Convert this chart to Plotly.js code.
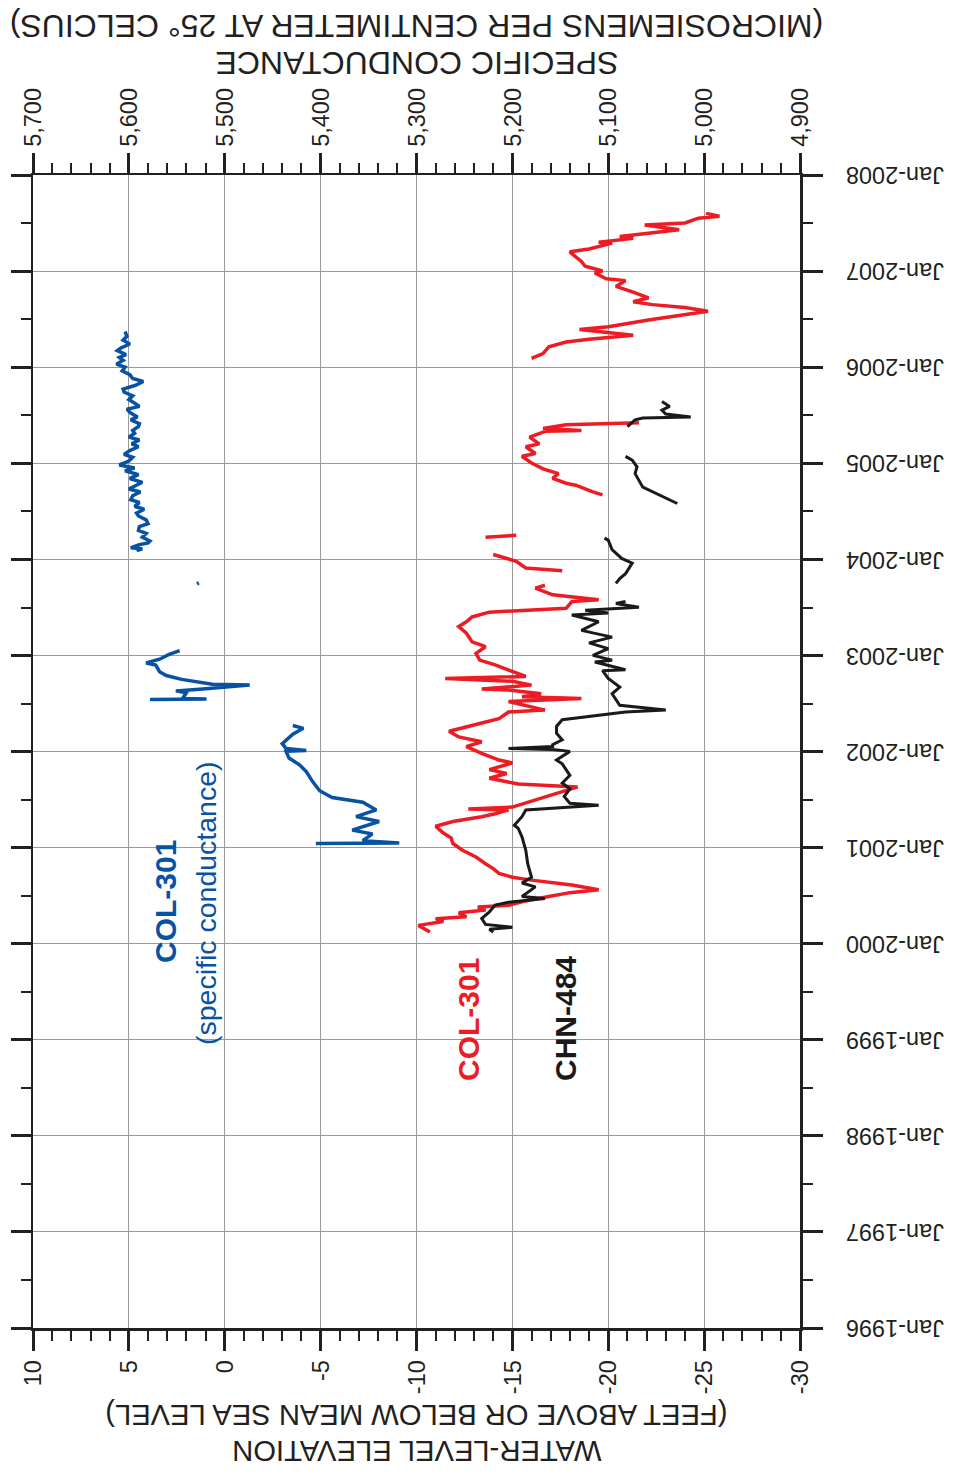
<!DOCTYPE html>
<html>
<head>
<meta charset="utf-8">
<script src="https://cdn.plot.ly/plotly-3.0.1.min.js"></script>
<style>
html,body{margin:0;padding:0;background:#fff;overflow:hidden;width:953px;height:1474px;}
#chart{position:absolute;left:0;top:0;width:1474px;height:953px;transform-origin:0 0;transform:translate(0px,1474px) rotate(-90deg);}
</style>
</head>
<body>
<div id="chart"></div>
<script>
// ---- Data (decimal years; null = gap in record) ----
const col301Time = [2000.12,2000.19,2000.23,2000.26,2000.28,2000.32,2000.35,2000.38,2000.40,2000.44,2000.49,2000.53,2000.56,2000.61,2000.66,2000.69,2000.73,2000.78,2000.83,2000.90,2000.97,2001.04,2001.10,2001.15,2001.22,2001.27,2001.32,2001.35,2001.39,2001.40,2001.42,2001.63,2001.66,2001.72,2001.77,2001.81,2001.88,2001.91,2001.98,2002.05,2002.10,2002.15,2002.21,2002.26,2002.29,2002.34,2002.41,2002.43,2002.50,2002.52,2002.55,2002.57,2002.60,2002.64,2002.65,2002.69,2002.73,2002.76,2002.78,2002.85,2002.90,2002.95,2003.02,2003.09,2003.14,2003.23,2003.30,2003.35,2003.40,2003.45,2003.49,2003.56,2003.58,2003.63,2003.70,2003.73,2003.80,2003.88,2003.91,2003.98,2004.05,2004.14,2004.23,2004.25,2004.45,
  2004.67,2004.70,2004.77,2004.79,2004.84,2004.89,2004.94,2005.00,2005.07,2005.10,2005.17,2005.20,2005.27,2005.33,2005.34,2005.36,2005.40,2005.41,2005.42,2005.75,
  2006.09,2006.14,2006.21,2006.26,2006.29,2006.33,2006.39,2006.42,2006.49,2006.54,2006.58,2006.62,2006.65,2006.68,2006.72,2006.78,2006.84,2006.90,2006.92,2006.98,2007.00,2007.05,2007.10,2007.18,2007.20,2007.23,2007.29,2007.30,2007.34,2007.36,2007.39,2007.43,2007.48,2007.50,2007.55,2007.57,2007.60];
const col301Level = [-10.7,-10.1,-11.4,-11.0,-12.6,-12.2,-13.6,-13.2,-14.8,-15.6,-16.9,-18.0,-19.5,-18.1,-16.0,-15.0,-14.3,-14.0,-13.6,-13.1,-12.4,-11.9,-11.8,-11.4,-11.0,-11.9,-13.4,-14.1,-14.8,-12.7,-15.0,-18.4,-15.3,-13.8,-14.7,-13.8,-15.0,-14.3,-13.4,-12.6,-13.4,-12.2,-11.7,-12.6,-13.3,-14.3,-14.8,-16.7,-15.3,-14.8,-18.6,-15.5,-16.5,-14.8,-13.4,-16.0,-15.0,-11.5,-15.7,-14.8,-14.1,-13.3,-13.1,-13.6,-12.9,-12.6,-12.2,-12.6,-12.9,-13.8,-17.8,-18.1,-19.5,-17.1,-16.2,-16.7,null,-17.6,-15.7,-15.2,-14.0,null,-13.6,-15.2,null,
  -19.7,-19.2,-18.3,-17.8,-17.1,-17.4,-16.6,-16.0,-15.5,-16.2,-15.7,-16.4,-15.9,-16.7,-18.6,-16.6,-17.8,-20.0,-21.6,null,
  -16.0,-16.6,-16.9,-17.8,-19.0,-21.3,-18.5,-20.0,-22.1,-24.0,-25.2,-24.0,-22.3,-21.3,-22.1,-21.3,-20.4,-20.9,-19.9,-19.3,-19.7,-18.8,-18.6,-18.1,-18.0,-19.0,-20.2,-19.5,-21.3,-20.6,-22.1,-23.7,-21.9,-24.0,-24.7,-25.8,-25.1];

const chn484Time = [2000.12,2000.15,2000.17,2000.20,2000.26,2000.33,2000.40,2000.43,2000.47,2000.49,2000.59,2000.63,2000.69,2000.83,2000.97,2001.11,2001.20,2001.23,2001.32,2001.39,2001.44,2001.46,2001.53,2001.61,2001.67,2001.75,2001.87,2001.91,2002.00,2002.02,2002.03,2002.05,2002.07,2002.12,2002.19,2002.26,2002.33,2002.38,2002.41,2002.43,2002.48,2002.60,2002.67,2002.76,2002.84,2002.85,2002.93,2002.95,2003.00,2003.07,2003.13,2003.19,2003.26,2003.35,2003.40,2003.42,2003.44,2003.47,2003.50,2003.51,2003.54,2003.56,2003.65,2003.75,2003.80,2003.85,2003.92,2003.96,2004.01,2004.10,2004.20,2004.22,2004.40,
  2004.58,2004.70,2004.75,2004.82,2004.89,2004.96,2005.03,2005.07,2005.20,
  2005.38,2005.45,2005.47,2005.48,2005.51,2005.55,2005.59,2005.64];
const chn484Level = [-14.0,-13.8,-15.0,-13.6,-13.4,-13.8,-14.1,-14.8,-16.7,-15.5,-16.2,-15.5,-16.0,-15.8,-15.7,-15.5,-15.3,-15.1,-15.5,-15.7,-19.5,-18.0,-17.7,-18.0,-17.6,-18.0,-17.6,-17.3,-18.0,-17.1,-14.8,-17.1,-17.1,-17.6,-17.3,-17.3,-17.6,-19.5,-20.9,-23.0,-20.6,-20.2,-20.6,-20.0,-19.7,-20.9,-19.3,-20.2,-19.2,-20.0,-19.0,-20.2,-18.6,-19.5,-18.5,-18.1,-20.0,-18.8,-21.6,-21.25,-20.4,-20.9,null,-20.4,-20.6,-20.9,-21.1,-21.25,-20.7,-20.2,-20.0,-19.8,null,
  -23.6,-22.3,-21.8,-21.6,-21.4,-21.5,-21.25,-20.9,null,
  -21.0,-21.4,-21.8,-24.3,-23.0,-22.8,-23.2,-22.8];

const condTime = [2001.04,2001.045,2001.07,2001.14,2001.18,2001.27,2001.32,2001.39,2001.47,2001.52,2001.59,2001.68,2001.79,2001.86,2001.93,2002.00,2002.01,2002.03,2002.08,2002.18,2002.24,2002.26,2002.27,2002.40,
  2002.54,2002.545,2002.55,2002.61,2002.63,2002.65,2002.69,2002.70,2002.72,2002.75,2002.79,2002.83,2002.90,2002.92,2002.96,2003.01,2003.05,2003.40,
  2003.745,2003.755,2003.90,
  2004.09,2004.11,2004.12,2004.15,2004.17,2004.19,2004.23,2004.27,2004.30,2004.34,2004.37,2004.41,2004.45,2004.48,2004.52,2004.55,2004.59,2004.62,2004.66,2004.70,2004.73,2004.77,2004.80,2004.84,2004.88,2004.92,2004.95,2004.98,2005.02,2005.06,2005.09,2005.13,2005.17,2005.20,2005.24,2005.27,2005.31,2005.34,2005.38,2005.41,2005.45,2005.48,2005.52,2005.56,2005.59,2005.63,2005.66,2005.70,2005.74,2005.77,2005.81,2005.85,2005.88,2005.92,2005.96,2006.00,2006.03,2006.07,2006.10,2006.13,2006.17,2006.20,2006.24,2006.28,2006.32,2006.37];
const condValue = [5405,5318,5356,5346,5367,5339,5363,5342,5356,5388,5401,5408,5415,5422,5433,5436,5415,5436,5440,5429,5418,5426,5429,null,
  5578,5519,5544,5540,5551,5523,5474,5513,5526,5545,5561,5568,5572,5582,5568,5558,5547,null,
  5529,5527,null,
  5592,5586,5598,5590,5580,5578,5586,5582,5590,5589,5580,5582,5590,5592,5584,5594,5589,5598,5596,5588,5600,5592,5586,5599,5590,5604,5594,5610,5600,5596,5605,5599,5590,5597,5589,5600,5594,5596,5590,5589,5598,5591,5598,5602,5589,5595,5600,5596,5605,5606,5593,5585,5596,5599,5607,5604,5613,5606,5610,5603,5612,5608,5599,5606,5602,5604];

const levelTickVals = [-30,-25,-20,-15,-10,-5,0,5,10];
const levelTickText = ['-30','-25','-20','-15','-10','-5','0','5','10'];

// ---- helpers ----
function toDate(d){
  const y = Math.floor(d);
  const s = Date.UTC(y,0,1), e = Date.UTC(y+1,0,1);
  return new Date(s + (d - y)*(e - s)).toISOString().slice(0,19).replace('T',' ');
}

const ink = '#231f20';
const FONT = 'Liberation Sans, Arial, Helvetica, sans-serif';
const TICKSIZE = 23.5;

const traces = [
  {x: col301Time.map(toDate), y: col301Level, type:'scatter', mode:'lines', name:'COL-301',
   line:{color:'#ed1c24', width:3.5}, connectgaps:false, hoverinfo:'skip'},
  {x: chn484Time.map(toDate), y: chn484Level, type:'scatter', mode:'lines', name:'CHN-484',
   line:{color:'#1a1a1a', width:3}, connectgaps:false, hoverinfo:'skip'},
  {x: condTime.map(toDate), y: condValue, type:'scatter', mode:'lines', name:'COL-301 (specific conductance)', yaxis:'y2',
   line:{color:'#0852a3', width:3.5}, connectgaps:false, hoverinfo:'skip'}
];

const layout = {
  width:1474, height:953,
  margin:{l:146, r:175, t:33, b:153, pad:0},
  paper_bgcolor:'#ffffff', plot_bgcolor:'#ffffff',
  showlegend:false,
  font:{family:FONT, color:ink, size:22},
  xaxis:{
    type:'date', range:[toDate(1996), toDate(2008)],
    dtick:'M12', tick0:'1996-01-01', tickformat:'%b-%Y', tickangle:-90,
    ticks:'outside', ticklen:20, tickwidth:3, tickcolor:ink,
    ticklabelstandoff:14,
    showline:true, linewidth:2.5, linecolor:ink, mirror:'ticks',
    showgrid:true, gridcolor:'#9a9a9a', gridwidth:1, zeroline:false,
    tickfont:{family:FONT, size:TICKSIZE, color:ink},
    minor:{ticks:'outside', ticklen:10, tickwidth:2, tickcolor:ink, dtick:'M6', tick0:'1996-01-01', showgrid:false}
  },
  yaxis:{
    range:[-30,10], tickmode:'array', tickvals:levelTickVals, ticktext:levelTickText,
    ticks:'outside', ticklen:20, tickwidth:3, tickcolor:ink,
    ticklabelstandoff:5,
    showline:true, linewidth:2.5, linecolor:ink, mirror:false,
    showgrid:true, gridcolor:'#9a9a9a', gridwidth:1, zeroline:false,
    tickfont:{family:FONT, size:TICKSIZE, color:ink},
    minor:{ticks:'outside', ticklen:10, tickwidth:2, tickcolor:ink, dtick:1, showgrid:false}
  },
  yaxis2:{
    overlaying:'y', side:'right', range:[4900,5700], dtick:100, tickformat:',d',
    ticks:'outside', ticklen:20, tickwidth:3, tickcolor:ink,
    ticklabelstandoff:1,
    showline:true, linewidth:2.5, linecolor:ink,
    showgrid:false, zeroline:false,
    tickfont:{family:FONT, size:TICKSIZE, color:ink},
    minor:{ticks:'outside', ticklen:10, tickwidth:2, tickcolor:ink, dtick:20, showgrid:false}
  },
  annotations:[
    {text:'WATER-LEVEL ELEVATION', xref:'paper', yref:'paper', x:-0.1067, y:0.5, textangle:-90, showarrow:false, xanchor:'center', yanchor:'middle', font:{family:FONT, size:29.2, color:ink}},
    {text:'(FEET ABOVE OR BELOW MEAN SEA LEVEL)', xref:'paper', yref:'paper', x:-0.0763, y:0.5, textangle:-90, showarrow:false, xanchor:'center', yanchor:'middle', font:{family:FONT, size:29.2, color:ink}},
    {text:'SPECIFIC CONDUCTANCE', xref:'paper', yref:'paper', x:1.0971, y:0.5, textangle:-90, showarrow:false, xanchor:'center', yanchor:'middle', font:{family:FONT, size:32, color:ink}},
    {text:'(MICROSIEMENS PER CENTIMETER AT 25° CELCIUS)', xref:'paper', yref:'paper', x:1.1290, y:0.5, textangle:-90, showarrow:false, xanchor:'center', yanchor:'middle', font:{family:FONT, size:32, color:ink}},
    {text:'<b>COL-301</b>', xref:'paper', yref:'paper', x:0.2125, y:0.4316, showarrow:false, xanchor:'left', yanchor:'middle', font:{family:FONT, size:30, color:'#ed1c24'}},
    {text:'<b>CHN-484</b>', xref:'paper', yref:'paper', x:0.2125, y:0.3051, showarrow:false, xanchor:'left', yanchor:'middle', font:{family:FONT, size:30, color:'#1a1a1a'}},
    {text:'<b>COL-301</b>', xref:'paper', yref:'paper', x:0.3699, y:0.8266, showarrow:false, xanchor:'center', yanchor:'middle', font:{family:FONT, size:30, color:'#0852a3'}},
    {text:'(specific conductance)', xref:'paper', yref:'paper', x:0.369, y:0.7744, showarrow:false, xanchor:'center', yanchor:'middle', font:{family:FONT, size:28.5, color:'#0852a3'}}
  ]
};

Plotly.newPlot('chart', traces, layout, {staticPlot:true, displayModeBar:false});
</script>
</body>
</html>
